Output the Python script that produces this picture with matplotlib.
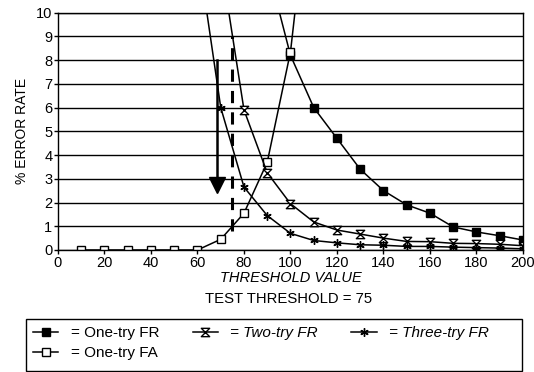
import matplotlib
matplotlib.use("Agg")
import matplotlib.pyplot as plt
from matplotlib.path import Path
from matplotlib.patches import Rectangle

plt.rcParams['font.family'] = ['Liberation Sans', 'DejaVu Sans']

# data (values above 10 are clipped by the axis)
fr1_x = [90, 100, 110, 120, 130, 140, 150, 160, 170, 180, 190, 200]
fr1_y = [12.0, 8.2, 6.0, 4.7, 3.4, 2.5, 1.9, 1.55, 0.97, 0.76, 0.6, 0.42]

fa1_x = [10, 20, 30, 40, 50, 60, 70, 80, 90, 100, 110]
fa1_y = [0, 0, 0, 0, 0, 0, 0.45, 1.55, 3.7, 8.35, 17.0]

fr2_x = [70, 80, 90, 100, 110, 120, 130, 140, 150, 160, 170, 180, 190, 200]
fr2_y = [12.2, 5.9, 3.25, 1.95, 1.18, 0.84, 0.67, 0.5, 0.36, 0.35, 0.28, 0.27, 0.24, 0.18]

fr3_x = [60, 70, 80, 90, 100, 110, 120, 130, 140, 150, 160, 170, 180, 190, 200]
fr3_y = [12.7, 6.0, 2.65, 1.45, 0.7, 0.4, 0.3, 0.22, 0.2, 0.15, 0.15, 0.12, 0.1, 0.08, 0.05]

test_threshold = 75
threshold_span = (0.8, 9.0)
arrow_x = 68.5
arrow_span = (8.0, 2.45)

x_ticks = list(range(0, 201, 20))
y_ticks = list(range(0, 11))

hourglass = Path([(-1, 1), (1, 1), (-1, -1), (1, -1), (-1, 1)],
                 [Path.MOVETO, Path.LINETO, Path.LINETO, Path.LINETO, Path.CLOSEPOLY])

fig = plt.figure(figsize=(5.34, 3.72), dpi=100)
ax = fig.add_axes([0.1086, 0.328, 0.8708, 0.638])

lw = 1.1
h1, = ax.plot(fr1_x, fr1_y, color='black', lw=lw, marker='s', ms=5.5,
              mfc='black', mec='black', label='= One-try FR')
h4, = ax.plot(fa1_x, fa1_y, color='black', lw=lw, marker='s', ms=6,
              mfc='white', mec='black', mew=1.0, label='= One-try FA')
h2, = ax.plot(fr2_x, fr2_y, color='black', lw=lw, marker=hourglass, ms=6,
              mfc='white', mec='black', mew=1.0, label='= Two-try FR')
h3, = ax.plot(fr3_x, fr3_y, color='black', lw=lw, marker=(6, 2, 0), ms=6,
              mec='black', mew=1.0, label='= Three-try FR')

# test threshold (dashed) and arrow
ax.plot([test_threshold, test_threshold], threshold_span, color='black',
        lw=2.2, ls=(0, (4, 3)))
ax.plot([arrow_x, arrow_x], [arrow_span[0], arrow_span[1] + 0.5], color='black', lw=1.8)
ax.plot(arrow_x, arrow_span[1] + 0.3, marker='v', ms=11, color='black')

ax.set_xlim(0, 200)
ax.set_ylim(0, 10)
ax.set_xticks(x_ticks)
ax.set_yticks(y_ticks)
ax.tick_params(direction='out', length=3, width=1, labelsize=10.5, pad=1)
for t in y_ticks:
    ax.axhline(t, color='black', lw=1.0, zorder=0)
for s in ax.spines.values():
    s.set_linewidth(1.0)

ax.set_ylabel('% ERROR RATE', fontsize=10, labelpad=5)
ax.set_xlabel('THRESHOLD VALUE', fontsize=10.5, style='italic', labelpad=1)
fig.text(0.54, 0.197, 'TEST THRESHOLD = 75', ha='center', va='center', fontsize=10.7)

leg = fig.legend(handles=[h1, h4, h2, h3], ncol=3, loc='upper left',
                 bbox_to_anchor=(0.062, 0.124), frameon=False, fontsize=11,
                 handlelength=1.65, handletextpad=0.8, borderaxespad=0,
                 borderpad=0, labelspacing=0.42, columnspacing=2.2)
for txt in leg.get_texts():
    if 'Two' in txt.get_text() or 'Three' in txt.get_text():
        txt.set_style('italic')
fig.patches.append(Rectangle((0.0487, 0.003), 0.9288, 0.1398, transform=fig.transFigure,
                             fill=False, edgecolor='black', lw=1.0))

fig.savefig('out.png', dpi=100)
